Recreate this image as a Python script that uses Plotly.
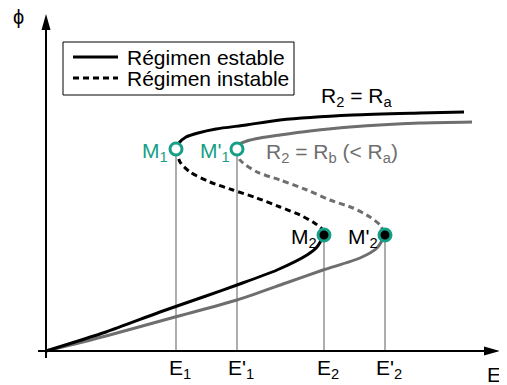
import plotly.graph_objects as go

# critical points (E, phi) of the two characteristics
E_crit = [130, 191, 278, 339]
E_crit_text = ['E<sub>1</sub>', "E'<sub>1</sub>", 'E<sub>2</sub>', "E'<sub>2</sub>"]
phi_M1 = 202
phi_M2 = 116

# R2 = Ra (black)
a_low_E = [0, 60, 114, 160, 191, 231, 261, 271, 278]
a_low_phi = [0, 19, 39, 55, 66, 81, 96, 104, 116]
a_mid_E = [130, 134, 144, 164, 187, 211, 234, 254, 267, 276, 278]
a_mid_phi = [202, 189, 179, 169, 161, 153, 144, 136, 129, 122, 116]
a_high_E = [130, 133, 140, 152, 170, 200, 234, 307, 374, 418]
a_high_phi = [202, 208, 214, 218, 222, 226, 231, 236, 238, 239]

# R2 = Rb (gray)
b_low_E = [0, 60, 129, 191, 240, 277, 314, 331, 339]
b_low_phi = [0, 15, 34, 51, 68, 81, 93, 103, 116]
b_mid_E = [191, 194, 211, 234, 261, 284, 307, 324, 334, 339]
b_mid_phi = [202, 191, 179, 171, 161, 151, 143, 134, 126, 116]
b_high_E = [191, 194, 201, 214, 234, 264, 304, 374, 426]
b_high_phi = [202, 207, 210, 213, 216, 220, 224, 228, 229]

TEAL = '#159f86'
GRAY = '#6e6e6e'
FONT = 'Arial, Liberation Sans, sans-serif'
DASH = '6px,4px'

fig = go.Figure()

# guide lines from the turning points down to the E axis
for e, p in zip(E_crit, [phi_M1, phi_M1, phi_M2, phi_M2]):
    fig.add_trace(go.Scatter(x=[e, e], y=[0, p], mode='lines',
                             line=dict(color='#777777', width=1.2),
                             showlegend=False, hoverinfo='skip'))

for xs, ys, color, dash in [
    (b_low_E, b_low_phi, GRAY, 'solid'),
    (b_high_E, b_high_phi, GRAY, 'solid'),
    (b_mid_E, b_mid_phi, GRAY, DASH),
    (a_low_E, a_low_phi, 'black', 'solid'),
    (a_high_E, a_high_phi, 'black', 'solid'),
    (a_mid_E, a_mid_phi, 'black', DASH),
]:
    fig.add_trace(go.Scatter(x=xs, y=ys, mode='lines', line_shape='spline',
                             line=dict(color=color, width=3, dash=dash,
                                       smoothing=0.7),
                             showlegend=False))

# turning points
fig.add_trace(go.Scatter(x=E_crit[:2], y=[phi_M1, phi_M1], mode='markers',
                         marker=dict(size=12, color='white',
                                     line=dict(color=TEAL, width=3)),
                         showlegend=False))
fig.add_trace(go.Scatter(x=E_crit[2:], y=[phi_M2, phi_M2], mode='markers',
                         marker=dict(size=12, color='black',
                                     line=dict(color=TEAL, width=3)),
                         showlegend=False))

shapes = [
    # axes
    dict(type='line', x0=-8, x1=446, y0=0, y1=0, line=dict(color='black', width=2)),
    dict(type='line', x0=0, x1=0, y0=-7, y1=330, line=dict(color='black', width=2)),
    dict(type='path', path='M454,0 L438,4.5 L438,-4.5 Z', fillcolor='black',
         line=dict(width=0)),
    dict(type='path', path='M0,337 L-4.5,321 L4.5,321 Z', fillcolor='black',
         line=dict(width=0)),
    # legend box
    dict(type='rect', x0=17, x1=248, y0=256, y1=309,
         line=dict(color='black', width=1), fillcolor='white'),
    dict(type='line', x0=27, x1=72, y0=294, y1=294, line=dict(color='black', width=3)),
    dict(type='line', x0=27, x1=72, y0=273, y1=273,
         line=dict(color='black', width=3, dash=DASH)),
]

ann = []
def label(x, y, text, color='black', size=21, xanchor='center'):
    ann.append(dict(x=x, y=y, text=text, showarrow=False, xanchor=xanchor,
                    yanchor='middle', font=dict(family=FONT, size=size, color=color)))

label(79, 294, 'Régimen estable', xanchor='left')
label(79, 273, 'Régimen instable', xanchor='left')
label(-28, 334, 'ϕ', size=20)
label(448, -23, 'E')
label(124, 199, 'M<sub>1</sub>', color=TEAL, xanchor='right')
label(186, 199, "M'<sub>1</sub>", color=TEAL, xanchor='right')
label(273, 113, 'M<sub>2</sub>', xanchor='right')
label(334, 113, "M'<sub>2</sub>", xanchor='right')
label(310, 254, 'R<sub>2</sub> = R<sub>a</sub>')
label(286, 198, 'R<sub>2</sub> = R<sub>b</sub> (&lt; R<sub>a</sub>)', color=GRAY)

# the page body adds an 8px offset, so ranges are shifted to compensate
fig.update_layout(
    width=507, height=385,
    margin=dict(t=0, l=0, r=0, b=0, autoexpand=False),
    plot_bgcolor='white', paper_bgcolor='white',
    font=dict(family=FONT, color='black'),
    shapes=shapes,
    annotations=ann,
    xaxis=dict(range=[-38, 469], showgrid=False, zeroline=False, showline=False,
               tickvals=E_crit, ticktext=E_crit_text, ticks='',
               tickfont=dict(family=FONT, size=21, color='black'),
               anchor='free', position=42 / 385, ticklabelshift=4,
               ticklabelstandoff=2, automargin=False),
    yaxis=dict(range=[-42, 343], showgrid=False, zeroline=False, showline=False,
               showticklabels=False, automargin=False),
)

fig.write_html('out.html')
